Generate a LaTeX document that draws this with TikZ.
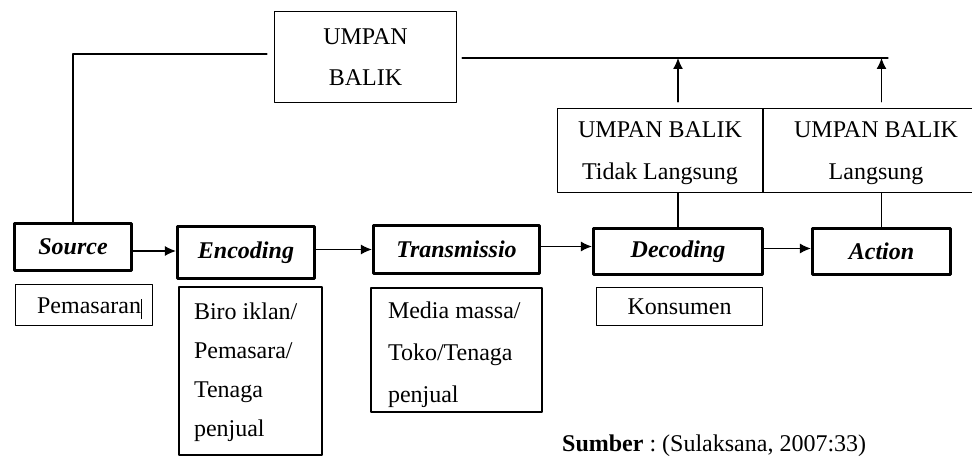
\documentclass[tikz,border=0pt]{standalone}
\usepackage{fontspec}
\setmainfont{Liberation Serif}
\usetikzlibrary{arrows.meta,calc,positioning}
\newcommand{\diagfont}{\fontsize{24pt}{40pt}\selectfont\frenchspacing}
\tikzset{
  stage/.style={draw, line width=3.2pt, minimum height=47pt, inner sep=0pt, font=\diagfont\bfseries\itshape},
  subbox/.style={draw, line width=1.2pt, inner sep=0pt},
  link/.style={line width=1.2pt},
  flow/.style={link, -{Latex[length=11pt,width=10pt]}},
  every picture/.style={line cap=round, line join=round}
}

\begin{document}
\begin{tikzpicture}[x=1pt, y=-1pt, font=\diagfont]
  \clip (0,0) rectangle (972,457);

  % stages
  \node[stage, minimum width=117pt] (src) at (73,247) {Source};
  \node[stage, minimum width=137pt, minimum height=52pt] (enc) at (246,252.5) {Encoding};
  \node[stage, minimum width=166pt, minimum height=48pt] (trans) at (456.5,249.5) {Transmissio};
  \node[stage, minimum width=169pt, minimum height=46pt] (dec) at (678,251.5) {Decoding};
  \node[stage, minimum width=138pt, minimum height=46pt] (act) at (881.5,251.5) {Action};

  % who does it
  \node[subbox, minimum width=137pt, minimum height=41pt] (srcsub) at (84,305) {};
  \node[anchor=base west, inner sep=0pt] (srctxt) at ([xshift=22pt,yshift=-8pt]srcsub.west) {Pemasaran\rule[-6pt]{0.8pt}{20pt}};
  \node[subbox, text width=113pt, inner xsep=15pt, minimum height=168pt, align=flush left,
        font=\fontsize{24pt}{39pt}\selectfont] (encsub) at (250.5,371) {\rule{0pt}{20pt}Biro iklan/\\Pemasara/\\Tenaga\\penjual};
  \node[subbox, text width=137pt, inner xsep=17pt, minimum height=124pt, align=flush left,
        font=\fontsize{24pt}{42pt}\selectfont] (transsub) at (456.5,350) {\rule{0pt}{26pt}Media massa/\\Toko/Tenaga\\penjual};
  \node[subbox, minimum width=166pt, minimum height=38pt] (decsub) at (679.5,306.5) {Konsumen};

  % feedback
  \node[subbox, minimum width=182pt, minimum height=91pt, align=center,
        font=\fontsize{24pt}{41pt}\selectfont] (fb) at (365.5,57) {UMPAN\\BALIK};
  \node[subbox, minimum width=205pt, minimum height=84pt, align=center,
        font=\fontsize{24pt}{42pt}\selectfont] (fbtl) at (660,150.5) {\rule{0pt}{22pt}UMPAN BALIK\\Tidak Langsung};
  \node[subbox, minimum width=226pt, minimum height=84pt, align=center,
        font=\fontsize{24pt}{42pt}\selectfont] (fbl) at (876,150.5) {\rule{0pt}{22pt}UMPAN BALIK\\Langsung};

  % flow
  \draw[flow] ([yshift=-4pt]src.east) -- ([yshift=-4pt]src.east -| enc.west);
  \draw[flow] (enc.east |- trans.west) -- (trans.west);
  \draw[flow] ([yshift=3pt]trans.east) -- ([yshift=3pt]trans.east -| dec.west);
  \draw[flow] ([yshift=3pt]dec.east) -- ([yshift=3pt]dec.east -| act.west);

  % feedback lines
  \coordinate (fbend) at (888,58);
  \draw[link] (src.north) |- ([xshift=-7pt,yshift=3pt]fb.west);
  \draw[link] ([xshift=5pt]fb.east |- fbend) -- (fbend);
  \draw[link] (dec.north) -- (dec.north |- fbtl.south);
  \draw[link] (act.north) -- (act.north |- fbl.south);
  \draw[flow] ([yshift=6pt]fbtl.north -| dec.north) -- (dec.north |- fbend);
  \draw[flow] ([yshift=6pt]fbl.north -| act.north) -- (act.north |- fbend);

  % source
  \node[anchor=base west, inner sep=0pt] (note) at (562,451) {\textbf{Sumber} : (Sulaksana, 2007:33)};
\end{tikzpicture}
\end{document}
